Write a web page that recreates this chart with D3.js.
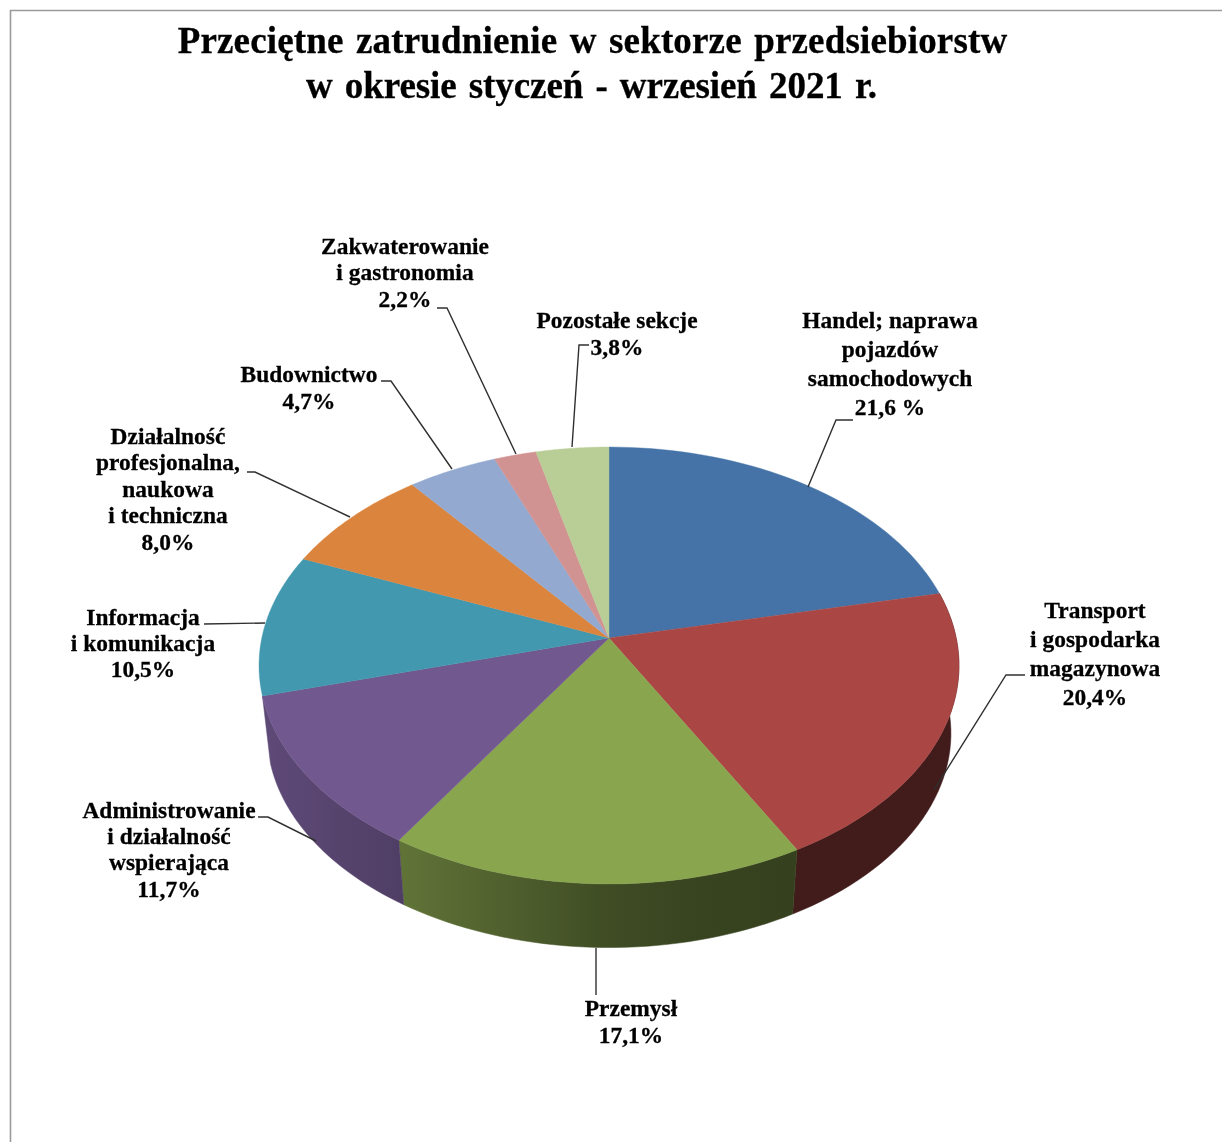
<!DOCTYPE html>
<html><head><meta charset="utf-8">
<script src="https://cdn.jsdelivr.net/npm/d3@7"></script>
<style>html,body{margin:0;padding:0;background:#fff}svg{display:block}text{font-family:"Liberation Serif",serif;font-weight:700;fill:#000;stroke:#000;stroke-width:.3px}</style>
</head><body><svg id="c" width="1222" height="1142"></svg>
<script>
const titleLines = ["Przeciętne zatrudnienie w sektorze przedsiebiorstw","w okresie styczeń - wrzesień 2021 r."];
const categories = [["Handel; naprawa","pojazdów","samochodowych"],["Transport","i gospodarka","magazynowa"],["Przemysł"],["Administrowanie","i działalność","wspierająca"],["Informacja","i komunikacja"],["Działalność","profesjonalna,","naukowa","i techniczna"],["Budownictwo"],["Zakwaterowanie","i gastronomia"],["Pozostałe sekcje"]];
const values = [21.6,20.4,17.1,11.7,10.5,8.0,4.7,2.2,3.8];
const valueLabels = ["21,6 %","20,4%","17,1%","11,7%","10,5%","8,0%","4,7%","2,2%","3,8%"];
const colors = ["#4573a7","#aa4644","#89a54e","#71588f","#4298af","#db843d","#93a9cf","#d19392","#b9cd96"];
// label layout: centre x, first baseline, line step
const labelLayout = [[890,327.5,29],[1095,617.5,29.3],[631,1015.5,27],[169,817.5,26.4],[143,624.5,26],[168,443.5,26.6],[309,381.5,27],[405,253.5,26.5],[617,327.5,27]];
const leaderLayout = [
 [[853,420],[836,420],[808,487]],
 [[1025,675],[1006,675],[934,790]],
 [[596,948],[596,995]],
 [[258,817],[268,817],[316,841]],
 [[204,624],[265,623]],
 [[247,472],[255,472],[350,517]],
 [[381,381],[391,381],[452,469]],
 [[437,308],[447,308],[516,454]],
 [[589,345],[579,345],[572,447]]];
const W=1222,H=1142,cx=609,cy=638,R=347.2,A=215,k=0.1259,depthShift=68.5,depthScale=0.98,depthX=0.977;
const svg=d3.select("#c");
svg.append("path").attr("d","M10.5,1142V10.5H1222").attr("fill","none").attr("stroke","#9a9a9a").attr("stroke-width",1.6);
const pie=d3.pie().sort(null).value(d=>d)(values);
const top3=a=>{const u=Math.sin(a),v=-Math.cos(a),w=1-k*v;return [cx+R*u/w,cy+A*v/w];};
const bot3=a=>{const p=top3(a);return [cx+depthX*(p[0]-cx),cy+depthShift+depthScale*(p[1]-cy)];};
const samp=(s,e)=>d3.range(0,41).map(i=>s+(e-s)*i/40);
const line=d3.line();
const shade=d3.scaleLinear().domain([260,405,609,700,800,960]).range([.84,.70,.46,.41,.39,.39]);
const defs=svg.append("defs");
const soft=defs.append("filter").attr("id","soft").attr("x","-5%").attr("y","-5%").attr("width","110%").attr("height","110%");
soft.append("feGaussianBlur").attr("stdDeviation",0.4);
pie.forEach((p,i)=>{
  const g=defs.append("linearGradient").attr("id","s"+i).attr("gradientUnits","userSpaceOnUse").attr("x1",260).attr("x2",960).attr("y1",0).attr("y2",0);
  shade.domain().forEach(x=>{const c=d3.rgb(colors[i]),m=shade(x);
    g.append("stop").attr("offset",(x-260)/700).attr("stop-color",d3.rgb(c.r*m,c.g*m,c.b*m).formatHex());});
});
const sides=svg.append("g");
pie.forEach((p,i)=>{
  // only slices facing the viewer show a wall
  if(Math.cos((p.startAngle+p.endAngle)/2)>=0) return;
  const as=samp(p.startAngle,p.endAngle);
  const pts=as.map(top3).concat(as.slice().reverse().map(bot3));
  sides.append("path").attr("d",line(pts)+"Z").attr("fill",`url(#s${i})`).attr("stroke",`url(#s${i})`).attr("stroke-width",.5);
});
const tops=svg.append("g");
pie.forEach((p,i)=>{
  const pts=[[cx,cy]].concat(samp(p.startAngle,p.endAngle).map(top3));
  tops.append("path").attr("d",line(pts)+"Z").attr("fill",colors[i]).attr("stroke",colors[i]).attr("stroke-width",.4);
});
const lead=svg.append("g");
leaderLayout.forEach(l=>{lead.append("path").attr("d",line(l)).attr("fill","none").attr("stroke","#303030").attr("stroke-width",1.4);});
const tg=svg.append("g").attr("text-anchor","middle").attr("filter","url(#soft)");
titleLines.forEach((t,i)=>tg.append("text").attr("x",[592.5,591.5][i]).attr("y",[53,98][i]).attr("font-size",37).attr("word-spacing",3).attr("letter-spacing",[.16,-.08][i]).text(t));
categories.forEach((c,i)=>{
  const [x,y,s]=labelLayout[i];
  c.concat([valueLabels[i]]).forEach((t,j)=>tg.append("text").attr("x",x).attr("y",y+j*s).attr("font-size",23.4).attr("letter-spacing",.05).text(t));
});
</script></body></html>
